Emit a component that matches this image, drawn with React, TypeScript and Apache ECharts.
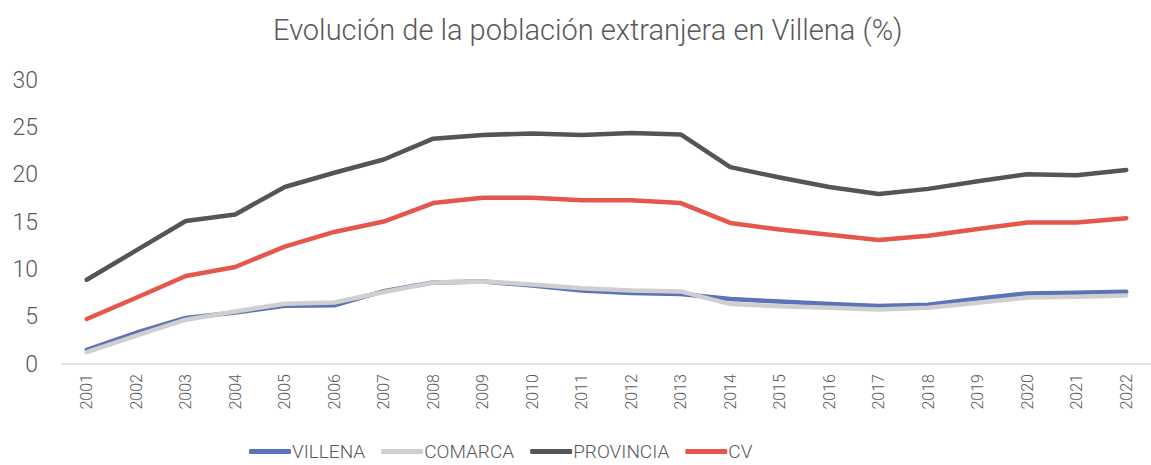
import React, { useEffect, useRef } from "react";
import * as echarts from "echarts";

const years = ["2001","2002","2003","2004","2005","2006","2007","2008","2009","2010","2011","2012","2013","2014","2015","2016","2017","2018","2019","2020","2021","2022"];
const villena = [1.5, 3.3, 4.86, 5.45, 6.15, 6.2, 7.7, 8.6, 8.72, 8.3, 7.77, 7.5, 7.4, 6.86, 6.6, 6.33, 6.12, 6.26, 6.9, 7.46, 7.53, 7.63];
const comarca = [1.25, 3.0, 4.68, 5.55, 6.37, 6.5, 7.6, 8.6, 8.72, 8.4, 8.0, 7.77, 7.67, 6.33, 6.1, 5.95, 5.77, 5.95, 6.47, 7.03, 7.1, 7.24];
const provincia = [8.9, 12.0, 15.1, 15.8, 18.7, 20.2, 21.6, 23.8, 24.2, 24.35, 24.2, 24.4, 24.25, 20.8, 19.7, 18.7, 17.95, 18.5, 19.3, 20.05, 19.95, 20.5];
const cv = [4.75, 7.0, 9.3, 10.25, 12.4, 13.95, 15.05, 17.0, 17.55, 17.55, 17.3, 17.3, 17.0, 14.9, 14.2, 13.65, 13.1, 13.55, 14.25, 14.95, 14.95, 15.4];
const yTicks = [0, 5, 10, 15, 20, 25, 30];

const seriesNames = ["VILLENA", "COMARCA", "PROVINCIA", "CV"];
const seriesColors = ["#5B73B7", "#CFCFCF", "#555555", "#E4574A"];

export default function App() {
  const ref = useRef<HTMLDivElement>(null);
  useEffect(() => {
    if (!ref.current) return;
    const chart = echarts.init(ref.current, null, { renderer: "svg" });
    const data = [villena, comarca, provincia, cv];
    const font = "Roboto";
    chart.setOption({
      animation: false,
      backgroundColor: "#ffffff",
      title: {
        text: "Evolución de la población extranjera en Villena (%)",
        left: 268,
        top: 10,
        textStyle: { fontFamily: font, fontWeight: 300, fontSize: 29, color: "#595959" },
      },
      legend: {
        top: 437,
        left: 244,
        icon: "roundRect",
        itemWidth: 42,
        itemHeight: 5,
        itemGap: 16,
        data: seriesNames,
        textStyle: { fontFamily: font, fontWeight: 300, fontSize: 19, color: "#595959", padding: [0, 0, 0, -4] },
      },
      grid: { left: 62, width: 1094, top: 80, bottom: 101, containLabel: false },
      xAxis: {
        type: "category",
        data: years,
        boundaryGap: true,
        axisLine: { show: true, lineStyle: { color: "#D9D9D9", width: 1.5 } },
        axisTick: { show: false },
        axisLabel: { rotate: 90, fontFamily: font, fontWeight: 300, fontSize: 16, color: "#595959", margin: 10 },
      },
      yAxis: {
        type: "value",
        min: yTicks[0],
        max: yTicks[yTicks.length - 1],
        interval: 5,
        splitLine: { show: false },
        axisLine: { show: false },
        axisTick: { show: false },
        axisLabel: { fontFamily: font, fontWeight: 300, fontSize: 23, color: "#595959", margin: 24 },
      },
      series: seriesNames.map((name, i) => ({
        name,
        type: "line",
        data: data[i],
        symbol: "none",
        color: seriesColors[i],
        lineStyle: { width: 4.5, color: seriesColors[i], cap: "round", join: "round" },
        z: 2 + i,
      })),
    });
    return () => chart.dispose();
  }, []);
  return (
    <div
      ref={ref}
      style={{ position: "absolute", left: 0, top: 0, width: 1151, height: 465 }}
    />
  );
}
